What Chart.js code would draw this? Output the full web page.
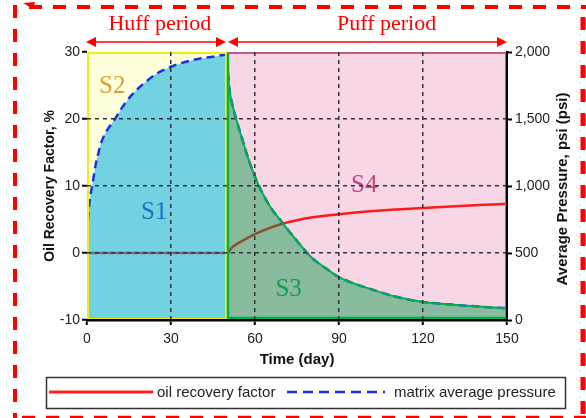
<!DOCTYPE html>
<html>
<head>
<meta charset="utf-8">
<script src="https://cdn.jsdelivr.net/npm/chart.js@4"></script>
<style>
    html, body { margin: 0; padding: 0; background: #fff; }
    #wrap { position: relative; width: 586px; height: 418px; }
</style>
</head>
<body>
<div id="wrap"><canvas id="recoveryChart" width="586" height="418"></canvas></div>
<script>
// 압력 (huff 구간, psi)
const huffDays = [0, 0.5, 1, 2, 3, 4, 5, 7, 10, 13, 16, 20, 25, 30, 35, 40, 45, 50];
const huffPressure = [650, 800, 900, 1020, 1150, 1240, 1320, 1410, 1500, 1600, 1680, 1760, 1840, 1890, 1925, 1950, 1965, 1980];
// 압력 (puff 구간, psi)
const puffDays = [50, 50.5, 51, 52, 53, 55, 58, 61, 65, 70, 75, 80, 85, 90, 95, 100, 110, 120, 130, 140, 150];
const puffPressure = [1980, 1800, 1700, 1600, 1520, 1380, 1180, 1020, 860, 720, 590, 470, 390, 320, 275, 240, 175, 135, 115, 100, 88];
// 회수율 (%)
const rfDays = [0, 50, 50.5, 51, 52, 53, 55, 58, 61, 65, 70, 75, 80, 90, 100, 110, 120, 130, 140, 150];
const rfValues = [0, 0, 0, 0.4, 0.9, 1.2, 1.7, 2.4, 3.0, 3.7, 4.4, 4.9, 5.3, 5.8, 6.2, 6.5, 6.7, 6.95, 7.15, 7.35];
// 구간
const periodBounds = [0, 50, 150];
const periodLabels = ["Huff period", "Puff period"];
const regionLabels = ["S1", "S2", "S3", "S4"];
const legendLabels = ["oil recovery factor", "matrix average pressure"];
const pressureTitle = "Average Pressure, psi (psi)";

let recoveryChart;

function toPoints(xs, ys) {
    return xs.map((x, i) => ({ x: x, y: ys[i] }));
}

/**
 * 양쪽 화살표
 */
function drawArrow(ctx, x1, x2, y) {
    ctx.beginPath();
    ctx.moveTo(x1 + 6, y);
    ctx.lineTo(x2 - 6, y);
    ctx.stroke();
    [[x1, 1], [x2, -1]].forEach(([x, d]) => {
        ctx.beginPath();
        ctx.moveTo(x, y);
        ctx.lineTo(x + d * 10, y - 5);
        ctx.lineTo(x + d * 10, y + 5);
        ctx.closePath();
        ctx.fill();
    });
}

const periodPlugin = {
    id: "periodPlugin",
    beforeDatasetsDraw(chart) {
        const { ctx, chartArea: a, scales: { x } } = chart;
        const x0 = x.getPixelForValue(periodBounds[0]);
        const x1 = x.getPixelForValue(periodBounds[1]);
        const x2 = x.getPixelForValue(periodBounds[2]);
        ctx.save();
        ctx.fillStyle = "#ffffdc";
        ctx.fillRect(x0, a.top, x1 - x0, a.bottom - a.top);
        ctx.fillStyle = "#f7d7e6";
        ctx.fillRect(x1, a.top, x2 - x1, a.bottom - a.top);
        ctx.restore();
    },
    afterDatasetsDraw(chart) {
        const { ctx, chartArea: a, scales: { x, y } } = chart;
        const x0 = x.getPixelForValue(periodBounds[0]);
        const x1 = x.getPixelForValue(periodBounds[1]);
        const x2 = x.getPixelForValue(periodBounds[2]);
        ctx.save();
        // 구간 테두리
        ctx.lineWidth = 2;
        ctx.strokeStyle = "#c2578f";
        ctx.strokeRect(x1 + 1, a.top + 1, x2 - x1 - 2, a.bottom - a.top - 2);
        ctx.strokeStyle = "#eeee10";
        ctx.strokeRect(x0 + 1, a.top + 1, x1 - x0 - 2, a.bottom - a.top - 2);
        // puff 영역 녹색 경계
        ctx.strokeStyle = "#00b050";
        ctx.lineWidth = 2.5;
        ctx.beginPath();
        ctx.moveTo(x1 + 1, a.top + 1);
        ctx.lineTo(x1 + 1, a.bottom - 2);
        ctx.lineTo(x2, a.bottom - 2);
        ctx.stroke();

        // S1 ~ S4
        ctx.font = "25px 'Liberation Serif', serif";
        ctx.textAlign = "center";
        ctx.textBaseline = "middle";
        const spots = [[24, 6.1, "#1a6fc0"], [9, 24.9, "#dca033"], [72, -5.4, "#10a050"], [99, 10.1, "#c8407f"]];
        regionLabels.forEach((t, i) => {
            ctx.fillStyle = spots[i][2];
            ctx.fillText(t, x.getPixelForValue(spots[i][0]), y.getPixelForValue(spots[i][1]));
        });
        ctx.restore();
    },
    afterDraw(chart) {
        const { ctx, chartArea: a, scales: { x } } = chart;
        ctx.save();
        // 오른쪽 축 제목 (아래에서 위로)
        ctx.save();
        ctx.translate(563, (a.top + a.bottom) / 2 + 3);
        ctx.rotate(-Math.PI / 2);
        ctx.font = "bold 15px 'Liberation Sans', Arial, sans-serif";
        ctx.fillStyle = "#111";
        ctx.textAlign = "center";
        ctx.textBaseline = "middle";
        ctx.fillText(pressureTitle, 0, 0);
        ctx.restore();

        // Huff / Puff 화살표
        ctx.strokeStyle = "#ff0000";
        ctx.fillStyle = "#ff0000";
        ctx.lineWidth = 1.5;
        drawArrow(ctx, x.getPixelForValue(periodBounds[0]) - 1, x.getPixelForValue(periodBounds[1]) - 1, 42);
        drawArrow(ctx, x.getPixelForValue(periodBounds[1]) + 1, x.getPixelForValue(periodBounds[2]), 42);
        ctx.font = "22px 'Liberation Serif', serif";
        ctx.textAlign = "center";
        ctx.textBaseline = "alphabetic";
        ctx.fillText(periodLabels[0], x.getPixelForValue(26), 30);
        ctx.fillText(periodLabels[1], x.getPixelForValue(107), 30);

        // 범례
        ctx.strokeStyle = "#333";
        ctx.lineWidth = 1.5;
        ctx.strokeRect(46.5, 377.5, 519, 31);
        ctx.strokeStyle = "#ff2020";
        ctx.lineWidth = 3;
        ctx.beginPath();
        ctx.moveTo(49, 392);
        ctx.lineTo(153, 392);
        ctx.stroke();
        ctx.strokeStyle = "#1a30e8";
        ctx.lineWidth = 2.5;
        ctx.setLineDash([10, 6]);
        ctx.beginPath();
        ctx.moveTo(287, 392);
        ctx.lineTo(385, 392);
        ctx.stroke();
        ctx.setLineDash([]);
        ctx.fillStyle = "#222";
        ctx.font = "15px 'Liberation Sans', Arial, sans-serif";
        ctx.textAlign = "left";
        ctx.textBaseline = "middle";
        ctx.fillText(legendLabels[0], 157, 393);
        ctx.fillText(legendLabels[1], 394, 393);

        // 빨간 점선 테두리
        ctx.strokeStyle = "#ff0000";
        ctx.setLineDash([13, 11]);
        ctx.lineWidth = 4;
        ctx.beginPath();
        ctx.moveTo(15, 5);
        ctx.lineTo(15, 418);
        ctx.moveTo(29, 7);
        ctx.lineTo(586, 7);
        ctx.stroke();
        ctx.lineWidth = 5;
        ctx.beginPath();
        ctx.moveTo(583, 17);
        ctx.lineTo(583, 418);
        ctx.stroke();
        ctx.lineWidth = 2.5;
        ctx.beginPath();
        ctx.moveTo(22, 417);
        ctx.lineTo(586, 417);
        ctx.stroke();
        ctx.setLineDash([]);
        ctx.fillStyle = "#ff0000";
        ctx.beginPath();
        ctx.moveTo(23, 3);
        ctx.lineTo(35, 2);
        ctx.lineTo(33, 9);
        ctx.closePath();
        ctx.fill();
        ctx.restore();
    }
};

function gridColor(edges) {
    return (c) => (c.tick && edges.includes(c.tick.value)) ? "rgba(0,0,0,0)" : "#333";
}

function createChart() {
    const ctx = document.getElementById("recoveryChart").getContext("2d");
    Chart.defaults.font.family = "'Liberation Sans', Arial, sans-serif";
    Chart.defaults.color = "#222";

    recoveryChart = new Chart(ctx, {
        type: "line",
        data: {
            datasets: [
                {
                    label: "puff",
                    data: toPoints(puffDays, puffPressure),
                    yAxisID: "y2",
                    borderColor: "#00b050",
                    borderWidth: 2,
                    backgroundColor: "rgba(0,150,70,0.45)",
                    fill: "start",
                    pointRadius: 0,
                    cubicInterpolationMode: "monotone",
                    order: 2
                },
                {
                    label: legendLabels[1],
                    data: toPoints(huffDays.concat(puffDays.slice(1)), huffPressure.concat(puffPressure.slice(1))),
                    yAxisID: "y2",
                    borderColor: "#1a30e8",
                    borderWidth: 2.5,
                    borderDash: [8, 5],
                    fill: false,
                    pointRadius: 0,
                    cubicInterpolationMode: "monotone",
                    order: 3
                },
                {
                    label: "huff",
                    data: toPoints(huffDays, huffPressure),
                    yAxisID: "y2",
                    borderWidth: 0,
                    backgroundColor: "rgba(0,173,229,0.55)",
                    fill: "start",
                    pointRadius: 0,
                    cubicInterpolationMode: "monotone",
                    order: 4
                },
                {
                    label: legendLabels[0],
                    data: toPoints(rfDays, rfValues),
                    yAxisID: "y",
                    borderColor: "#ff1a1a",
                    borderWidth: 2.5,
                    fill: false,
                    pointRadius: 0,
                    cubicInterpolationMode: "monotone",
                    order: 5
                }
            ]
        },
        options: {
            responsive: false,
            animation: false,
            devicePixelRatio: 1,
            layout: { padding: { left: 42, right: 14, top: 52, bottom: 49 } },
            plugins: {
                legend: { display: false },
                tooltip: { enabled: false }
            },
            scales: {
                x: {
                    type: "linear",
                    min: 0,
                    max: 150,
                    ticks: { stepSize: 30, font: { size: 14 }, padding: 6 },
                    grid: { color: gridColor([0, 150]), lineWidth: 1.5, tickLength: 5, tickColor: "#000", tickWidth: 2, z: 1 },
                    border: { color: "#000", width: 2.5, dash: [4, 4], z: 1 },
                    title: { display: true, text: "Time (day)", font: { size: 15, weight: "bold" }, color: "#111", padding: 0 },
                    afterFit: (s) => { s.height = 49; }
                },
                y: {
                    position: "left",
                    min: -10,
                    max: 30,
                    ticks: { stepSize: 10, font: { size: 14 }, padding: 2 },
                    grid: { color: gridColor([-10, 30]), lineWidth: 1.5, tickLength: 5, tickColor: "#000", tickWidth: 2, z: 1 },
                    border: { display: false, dash: [4, 4] },
                    title: { display: true, text: "Oil Recovery Factor, %", font: { size: 14, weight: "bold" }, color: "#111", padding: 0 },
                    afterFit: (s) => { s.width = 45; }
                },
                y2: {
                    position: "right",
                    min: 0,
                    max: 2000,
                    ticks: { stepSize: 500, font: { size: 14 }, padding: 3 },
                    grid: { drawOnChartArea: false, tickLength: 5, tickColor: "#000", tickWidth: 2, z: 1 },
                    border: { color: "#000", width: 2, z: 1 },
                    title: { display: false, text: pressureTitle },
                    afterFit: (s) => { s.width = 65; }
                }
            }
        },
        plugins: [periodPlugin]
    });
}

createChart();
</script>
</body>
</html>
